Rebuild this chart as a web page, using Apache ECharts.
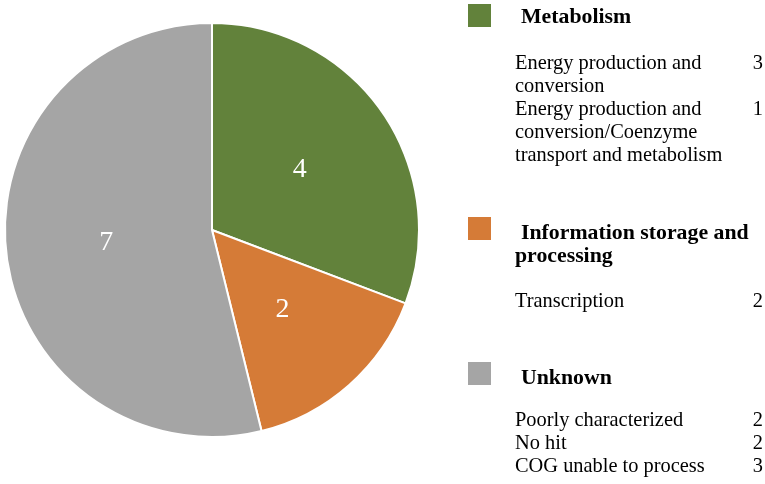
<!DOCTYPE html>
<html>
<head>
<meta charset="utf-8">
<script src="https://cdn.jsdelivr.net/npm/echarts@6/dist/echarts.min.js"></script>
<style>
  html, body { margin: 0; padding: 0; background: #fff; }
  #chart { width: 765px; height: 484px; }
</style>
</head>
<body>
<div id="chart"></div>
<script>
// COG categories and counts
const groups = ['Metabolism', 'Information storage and processing', 'Unknown']
const groupCounts = [4, 2, 7]
const groupColors = ['#62823b', '#d57b37', '#a5a5a5']

const subNames = [
  ['Energy production and conversion', 'Energy production and conversion/Coenzyme transport and metabolism'],
  ['Transcription'],
  ['Poorly characterized', 'No hit', 'COG unable to process']
]
const subCounts = [
  [3, 1],
  [2],
  [2, 2, 3]
]

const SERIF = '"Liberation Serif", "Times New Roman", serif'
const TITLE_FONT = 'bold 21.8px ' + SERIF
const ITEM_FONT = '20.4px ' + SERIF
const LINE = 23

// layout of the hand-made legend on the right
const boxY = [4, 217, 362]
const titleY = [17, 233, 378]
const itemY = [64, 302, 421]

const ctx = document.createElement('canvas').getContext('2d')
const wrap = (text, font, maxW) => {
  ctx.font = font
  const words = text.split(' ')
  const lines = []
  let cur = ''
  words.forEach(w => {
    const next = cur ? cur + ' ' + w : w
    if (cur && ctx.measureText(next).width > maxW) {
      lines.push(cur)
      cur = w
    } else cur = next
  })
  if (cur) lines.push(cur)
  return lines
}

const txt = (x, y, text, font, align) => ({
  type: 'text',
  x, y,
  silent: true,
  style: {
    text, font, fill: '#000',
    textAlign: align || 'left', align: align || 'left',
    textVerticalAlign: 'middle', verticalAlign: 'middle'
  }
})

const graphic = []
groups.forEach((g, i) => {
  graphic.push({
    type: 'rect',
    silent: true,
    shape: { x: 468, y: boxY[i], width: 23, height: 23 },
    style: { fill: groupColors[i] }
  })
  wrap(g, TITLE_FONT, 240).forEach((line, k) => {
    graphic.push(txt(k === 0 ? 521 : 515, titleY[i] + k * LINE, line, TITLE_FONT))
  })
  let y = itemY[i]
  subNames[i].forEach((name, j) => {
    graphic.push(txt(763, y, String(subCounts[i][j]), ITEM_FONT, 'right'))
    wrap(name, ITEM_FONT, 215).forEach(line => {
      graphic.push(txt(515, y, line, ITEM_FONT))
      y += LINE
    })
  })
})

const chart = echarts.init(document.getElementById('chart'), null, { renderer: 'canvas' })
chart.setOption({
  animation: false,
  graphic,
  series: [
    {
      type: 'pie',
      center: [212, 230],
      radius: 207,
      startAngle: 90,
      clockwise: true,
      silent: true,
      data: groups.map((name, i) => ({ name, value: groupCounts[i], itemStyle: { color: groupColors[i] } })),
      itemStyle: { borderColor: '#fff', borderWidth: 2 },
      label: {
        show: true,
        position: 'inside',
        formatter: '{c}',
        color: '#fff',
        fontFamily: SERIF,
        fontSize: 28,
        textBorderWidth: 0
      },
      labelLine: { show: false }
    }
  ]
})
</script>
</body>
</html>
